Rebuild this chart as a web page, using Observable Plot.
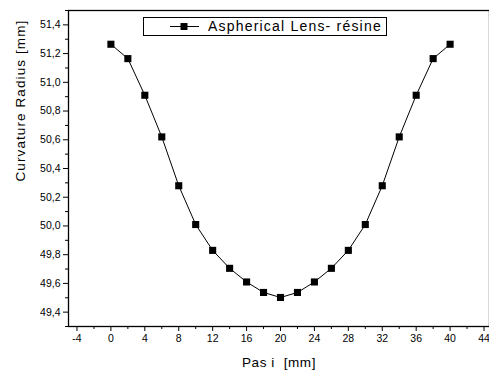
<!DOCTYPE html>
<html>
<head>
<meta charset="utf-8">
<script src="https://cdn.jsdelivr.net/npm/d3@7"></script>
<script src="https://cdn.jsdelivr.net/npm/@observablehq/plot@0.6"></script>
<style>
  html, body { margin: 0; padding: 0; background: #fff; }
  #wrap { position: relative; width: 489px; height: 374px; overflow: hidden; font-family: "Liberation Sans", Arial, sans-serif; }
  #legend { position: absolute; left: 143px; top: 17px; width: 244px; height: 19px; border: 1px solid #000; box-sizing: border-box; background: #fff; font-size: 14px; line-height: 17px; white-space: nowrap; }
  #legend svg { position: absolute; left: 26px; top: 2px; }
  #legend span { position: absolute; left: 64px; top: 0px; letter-spacing: 1.2px; }
</style>
</head>
<body>
<div id="wrap">
  <div id="chart"></div>
  <div id="legend">
    <svg width="30" height="13"><line x1="0" y1="6.5" x2="29" y2="6.5" stroke="#000" stroke-width="1"/><rect x="10.5" y="3" width="7" height="7" fill="#000"/></svg>
    <span>Aspherical Lens- résine</span>
  </div>
</div>
<script>
const pas = [0, 2, 4, 6, 8, 10, 12, 14, 16, 18, 20, 22, 24, 26, 28, 30, 32, 34, 36, 38, 40];
const radius = [51.265, 51.165, 50.91, 50.62, 50.28, 50.01, 49.83, 49.705, 49.61, 49.537, 49.502,
                49.537, 49.61, 49.705, 49.83, 50.01, 50.28, 50.62, 50.91, 51.165, 51.265];
const xTicks = [-4, 0, 4, 8, 12, 16, 20, 24, 28, 32, 36, 40, 44];
const xMinor = [-2, 2, 6, 10, 14, 18, 22, 26, 30, 34, 38, 42];
const yTicks = [49.4, 49.6, 49.8, 50.0, 50.2, 50.4, 50.6, 50.8, 51.0, 51.2, 51.4];
const yMinor = [49.3, 49.5, 49.7, 49.9, 50.1, 50.3, 50.5, 50.7, 50.9, 51.1, 51.3, 51.5];
const xDomain = [-5, 45];
const yDomain = [49.3, 51.5];
const xTitle = "Pas i\u00a0\u00a0[mm]";
const yTitle = "Curvature Radius [mm]";

const data = pas.map((p, i) => ({ x: p, y: radius[i] }));

const chart = Plot.plot({
  width: 489,
  height: 374,
  marginLeft: 68,
  marginTop: 10,
  marginBottom: 48,
  marginRight: 0,
  style: { fontFamily: "'Liberation Sans', Arial, sans-serif", fontSize: "10.5px", color: "#000", background: "#fff" },
  x: { domain: xDomain, range: [68, 492] },
  y: { domain: yDomain },
  marks: [
    Plot.frame({ stroke: "#000", strokeWidth: 1.3 }),
    Plot.axisX({ ticks: xTicks, tickSize: 5, tickPadding: 3, tickFormat: d => String(d), label: null, fontSize: "10.5px" }),
    Plot.axisX({ ticks: xMinor, tickSize: 3, text: null, label: null }),
    Plot.axisY({ ticks: yTicks, tickSize: 5, tickPadding: 3, tickFormat: d => d.toFixed(1).replace(".", ","), label: null, fontSize: "10.5px" }),
    Plot.axisY({ ticks: yMinor, tickSize: 3, text: null, label: null }),
    Plot.text([xTitle], { frameAnchor: "bottom", dy: 40, fontSize: 13.5, text: d => d }),
    Plot.text([yTitle], { frameAnchor: "left", dx: -48, dy: 13, rotate: -90, fontSize: 13.5, text: d => d }),
    Plot.line(data, { x: "x", y: "y", stroke: "#000", strokeWidth: 1 }),
    Plot.dot(data, { x: "x", y: "y", symbol: "square", r: 4, fill: "#000", stroke: "none" })
  ]
});
d3.select(chart).selectAll("text").each(function () {
  const t = this.textContent;
  if (t === yTitle) this.style.letterSpacing = "1.1px";
  if (t === xTitle) this.style.letterSpacing = "0.6px";
});
document.getElementById("chart").appendChild(chart);
</script>
</body>
</html>
